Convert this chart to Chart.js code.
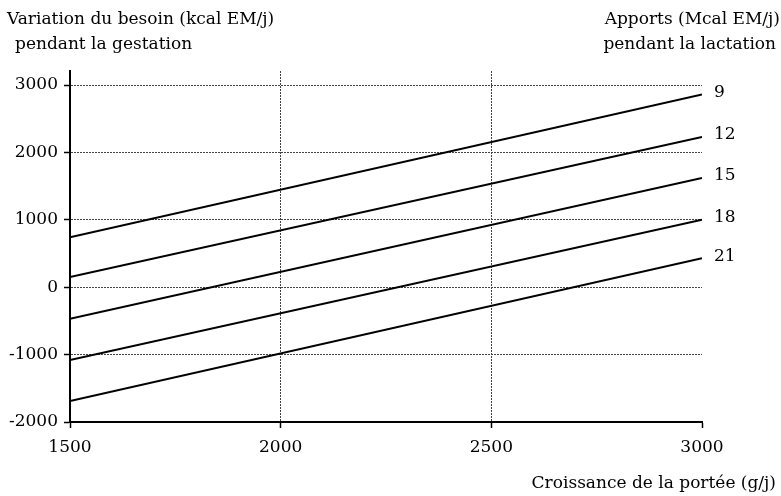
<!DOCTYPE html>
<html>
<head>
<meta charset="utf-8">
<script src="https://cdn.jsdelivr.net/npm/chart.js@4.4.1/dist/chart.umd.min.js"></script>
<style>
  html, body { margin: 0; padding: 0; background: #fff; }
  #wrap { width: 781px; height: 496px; }
</style>
</head>
<body>
<div id="wrap"><canvas id="chart" width="781" height="496"></canvas></div>
<script>
// Croissance de la portée (g/j) -> variation du besoin (kcal EM/j)
const growth = [1500, 3000];
const intakeLabels = ['9', '12', '15', '18', '21'];
const need9  = [740, 2860];
const need12 = [150, 2230];
const need15 = [-470, 1620];
const need18 = [-1080, 1000];
const need21 = [-1690, 430];

const X_TICKS = [1500, 2000, 2500, 3000];
const Y_TICKS = [-2000, -1000, 0, 1000, 2000, 3000];

const FONT = '"DejaVu Serif", "Liberation Serif", serif';

const series = [need9, need12, need15, need18, need21];

// Texts around the plot
const textPlugin = {
  id: 'texts',
  afterDraw(chart) {
    const ctx = chart.ctx;
    ctx.save();
    ctx.fillStyle = '#000';
    ctx.font = '17px ' + FONT;
    ctx.textBaseline = 'alphabetic';
    ctx.textAlign = 'left';
    ctx.fillText('Variation du besoin (kcal EM/j)', 7, 24);
    ctx.fillText('pendant la gestation', 15, 49);
    ctx.textAlign = 'right';
    ctx.fillText('Apports (Mcal EM/j)', 780, 24);
    ctx.fillText('pendant la lactation', 776, 49);
    ctx.fillText('Croissance de la portée (g/j)', 776, 488);

    // intake labels at line ends
    ctx.textAlign = 'left';
    ctx.textBaseline = 'middle';
    chart.data.datasets.forEach((ds, i) => {
      const pts = chart.getDatasetMeta(i).data;
      const last = pts[pts.length - 1];
      ctx.fillText(ds.label, last.x + 12, last.y - 2);
    });
    ctx.restore();
  }
};

const plainNum = v => String(v);

new Chart(document.getElementById('chart'), {
  type: 'line',
  data: {
    datasets: series.map((vals, i) => ({
      label: intakeLabels[i],
      data: growth.map((g, j) => ({ x: g, y: vals[j] })),
      borderColor: '#000',
      borderWidth: 2,
      pointRadius: 0,
      tension: 0,
      fill: false,
    })),
  },
  options: {
    responsive: false,
    animation: false,
    layout: { padding: { top: 71, right: 79, left: 0, bottom: 0 } },
    plugins: { legend: { display: false }, tooltip: { enabled: false } },
    scales: {
      x: {
        type: 'linear',
        min: 1500, max: 3000,
        afterBuildTicks: s => { s.ticks = X_TICKS.map(v => ({ value: v })); },
        afterFit: s => { s.height = 74; },
        grid: {
          color: c => (c.tick && (c.tick.value === 2000 || c.tick.value === 2500)) ? '#444' : 'rgba(0,0,0,0)',
          lineWidth: 1,
          tickColor: '#000',
          tickLength: 6,
          tickWidth: 1.5,
          tickBorderDash: [],
        },
        border: { color: '#000', width: 2, dash: [2, 1] },
        ticks: { color: '#000', padding: 9, maxRotation: 0, callback: plainNum, font: { family: FONT, size: 17 } },
      },
      y: {
        type: 'linear',
        min: -2000, max: 3208,
        afterBuildTicks: s => { s.ticks = Y_TICKS.map(v => ({ value: v })); },
        afterFit: s => { s.width = 70; },
        grid: {
          color: c => (c.tick && c.tick.value !== -2000) ? '#444' : 'rgba(0,0,0,0)',
          lineWidth: 1,
          tickColor: '#000',
          tickLength: 6,
          tickWidth: 1.5,
          tickBorderDash: [],
        },
        border: { color: '#000', width: 2, dash: [2, 1] },
        ticks: { color: '#000', padding: 6, callback: plainNum, font: { family: FONT, size: 17 } },
      },
    },
  },
  plugins: [textPlugin],
});
</script>
</body>
</html>
